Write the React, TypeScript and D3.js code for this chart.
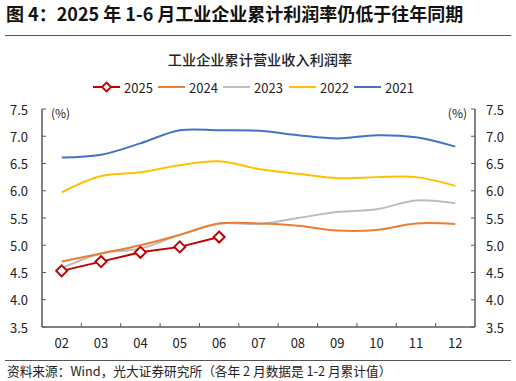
import React from "react";
import * as d3 from "d3";

const months = ["02", "03", "04", "05", "06", "07", "08", "09", "10", "11", "12"];
const s2025 = [4.53, 4.70, 4.87, 4.97, 5.15];
const s2024 = [4.70, 4.85, 5.00, 5.19, 5.40, 5.40, 5.36, 5.27, 5.28, 5.40, 5.39];
const s2023 = [4.58, 4.85, 4.94, 5.19, 5.40, 5.39, 5.50, 5.61, 5.66, 5.82, 5.77];
const s2022 = [5.97, 6.27, 6.34, 6.47, 6.54, 6.40, 6.31, 6.23, 6.25, 6.25, 6.09];
const s2021 = [6.61, 6.66, 6.87, 7.11, 7.11, 7.10, 7.02, 6.96, 7.02, 6.98, 6.81];
const yTicks = [3.5, 4.0, 4.5, 5.0, 5.5, 6.0, 6.5, 7.0, 7.5];

const FONT = "'Noto Sans CJK SC', 'Noto Sans', sans-serif";

export default function App() {
  const W = 516, H = 381;
  const left = 42, right = 475, top = 109, bottom = 327;
  const x = d3.scaleBand<string>().domain(months).range([left, right]);
  const y = d3.scaleLinear().domain([3.5, 7.5]).range([bottom, top]);
  const cx = (i: number) => (x(months[i]) as number) + x.bandwidth() / 2;

  const smooth = d3.line<number>().x((_, i) => cx(i)).y((d) => y(d)).curve(d3.curveCatmullRom.alpha(0.5));
  const straight = d3.line<number>().x((_, i) => cx(i)).y((d) => y(d));

  const series = [
    { name: "2021", data: s2021, color: "#4472C4" },
    { name: "2022", data: s2022, color: "#FFC000" },
    { name: "2023", data: s2023, color: "#BDBDBD" },
    { name: "2024", data: s2024, color: "#ED7D31" },
  ];

  const legend = [
    { name: "2025", color: "#C00000", x0: 93, marker: true },
    { name: "2024", color: "#ED7D31", x0: 158, marker: false },
    { name: "2023", color: "#BDBDBD", x0: 223, marker: false },
    { name: "2022", color: "#FFC000", x0: 289, marker: false },
    { name: "2021", color: "#4472C4", x0: 354, marker: false },
  ];

  const diamond = (px: number, py: number, r: number) =>
    `M${px},${py - r}L${px + r},${py}L${px},${py + r}L${px - r},${py}Z`;

  const axisColor = "#595959";

  return (
    <svg width={W} height={H} style={{ position: "absolute", left: 0, top: 0, background: "#fff" }} fontFamily={FONT}>
      <text x={6} y={21} fontSize={18} fontWeight="bold" fill="#111">
        图 4：2025 年 1-6 月工业企业累计利润率仍低于往年同期
      </text>
      <line x1={5} x2={511} y1={35.5} y2={35.5} stroke="#555" strokeWidth={1} />
      <text x={260} y={59} fontSize={14.2} fontWeight={500} textAnchor="middle" dominantBaseline="central" fill="#222">
        工业企业累计营业收入利润率
      </text>

      {legend.map((l) => (
        <g key={l.name}>
          <line x1={l.x0} x2={l.x0 + 27} y1={87} y2={87} stroke={l.color} strokeWidth={2} />
          {l.marker && <path d={diamond(l.x0 + 13.5, 87, 4.5)} fill="#fff" stroke={l.color} strokeWidth={1.8} />}
          <text x={l.x0 + 31} y={87} fontSize={13} dominantBaseline="central" fill="#222">{l.name}</text>
        </g>
      ))}

      {/* axes */}
      <line x1={left} x2={left} y1={top} y2={bottom} stroke={axisColor} strokeWidth={1.5} />
      <line x1={right} x2={right} y1={top} y2={bottom} stroke={axisColor} strokeWidth={1.5} />
      <line x1={left} x2={right} y1={bottom} y2={bottom} stroke={axisColor} strokeWidth={1.5} />
      {yTicks.map((t) => (
        <g key={t}>
          <line x1={left} x2={left + 4} y1={y(t)} y2={y(t)} stroke={axisColor} strokeWidth={1} />
          <line x1={right - 4} x2={right} y1={y(t)} y2={y(t)} stroke={axisColor} strokeWidth={1} />
          <text x={28} y={y(t)} fontSize={13} textAnchor="end" dominantBaseline="central" fill="#222">{t.toFixed(1)}</text>
          <text x={486} y={y(t)} fontSize={13} textAnchor="start" dominantBaseline="central" fill="#222">{t.toFixed(1)}</text>
        </g>
      ))}
      {months.map((m, i) => (
        <g key={m}>
          {i > 0 && (
            <line x1={x(m) as number} x2={x(m) as number} y1={bottom} y2={bottom - 4} stroke={axisColor} strokeWidth={1} />
          )}
          <text x={cx(i)} y={342} fontSize={13} textAnchor="middle" dominantBaseline="central" fill="#222">{m}</text>
        </g>
      ))}
      <text x={51} y={112} fontSize={12} dominantBaseline="central" fill="#222">(%)</text>
      <text x={467} y={112} fontSize={12} textAnchor="end" dominantBaseline="central" fill="#222">(%)</text>

      {series.map((s) => (
        <path key={s.name} d={smooth(s.data) as string} fill="none" stroke={s.color} strokeWidth={2} />
      ))}
      <path d={straight(s2025) as string} fill="none" stroke="#C00000" strokeWidth={2} />
      {s2025.map((v, i) => (
        <path key={i} d={diamond(cx(i), y(v), 5.5)} fill="#fff" stroke="#C00000" strokeWidth={2} />
      ))}

      <line x1={5} x2={511} y1={360.5} y2={360.5} stroke="#555" strokeWidth={1} />
      <text x={7} y={370} fontSize={12.7} dominantBaseline="central" fill="#222">
        资料来源：Wind，光大证券研究所（各年 2 月数据是 1-2 月累计值）
      </text>
    </svg>
  );
}
